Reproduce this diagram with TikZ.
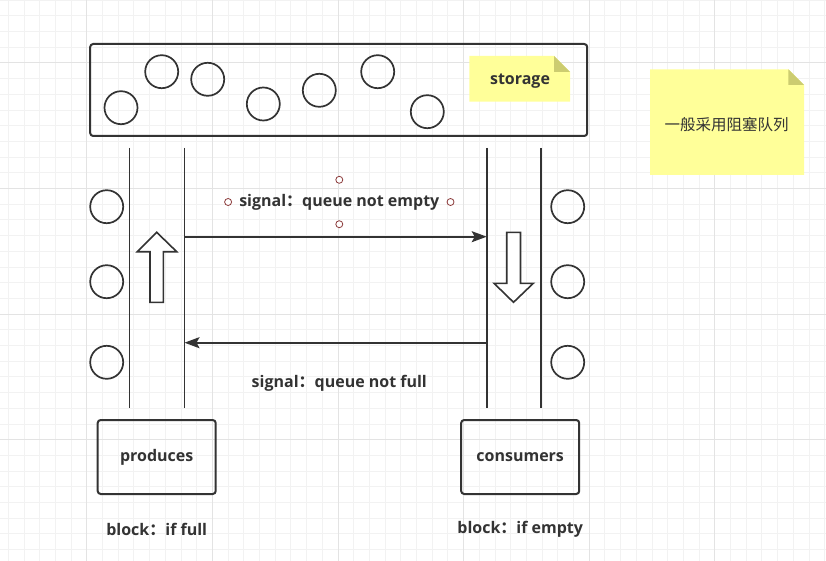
\documentclass[tikz,border=0pt]{standalone}
\usepackage{fontspec}
\setmainfont{Open Sans}
\newfontfamily\cjk{Noto Sans CJK SC}
\usetikzlibrary{arrows.meta, positioning}
\definecolor{ink}{HTML}{333333}
\definecolor{notefill}{HTML}{FFFF99}
\definecolor{notefold}{HTML}{CCCC70}
\definecolor{handlered}{HTML}{8B3A3A}
\newcommand{\fc}{{\cjk ：}}

\begin{document}
\begin{tikzpicture}[x=1pt, y=-1pt,
      every node/.style = {text=ink, font=\fontsize{16}{19}\selectfont\bfseries},
      gridminor/.style  = {draw=gray!10, line width=0.7pt},
      gridmajor/.style  = {draw=gray!22, line width=0.8pt},
      store/.style      = {draw=ink, line width=2pt, rounded corners=3pt,
                           minimum width=497pt, minimum height=92pt},
      box/.style        = {draw=ink, line width=2pt, rounded corners=3pt,
                           minimum width=118pt, minimum height=74pt},
      ball/.style       = {draw=ink, line width=1.7pt, circle, inner sep=0pt,
                           minimum size=33pt},
      lane/.style       = {draw=ink, line width=1.9pt},
      flow/.style       = {draw=ink, line width=1.8pt,
                           -{Stealth[length=15pt, width=11pt, inset=3pt]}},
      fat/.style        = {draw=ink, line width=1.6pt, fill=white},
      handle/.style     = {draw=handlered, line width=0.8pt, fill=white},
      sel/.style        = {inner sep=0pt, minimum width=222pt, minimum height=44pt},
  node distance = 72pt]
  \useasboundingbox (0,0) rectangle (826,561);
  \fill[white] (0,0) rectangle (826,561);
  % grid
  \foreach \i in {0,...,52}
    \draw[gridminor] ({8.2+15.7*\i},0) -- ({8.2+15.7*\i},561);
  \foreach \j in {0,...,35}
    \draw[gridminor] (0,{15.7*\j}) -- (826,{15.7*\j});
  \foreach \i in {0,...,6}
    \draw[gridmajor] ({86.7+125.6*\i},0) -- ({86.7+125.6*\i},561);
  \foreach \j in {0,...,3}
    \draw[gridmajor] (0,{62.8+125.6*\j}) -- (826,{62.8+125.6*\j});

  % storage
  \node[store] (storage) at (338.7,90) {};
  \foreach \x/\y [count=\i] in {121/107.7, 161.7/71.7, 207.7/79.3, 263.3/104,
                                319.3/90.3, 377.7/71.7, 427.3/111.7}
    \node[ball] (s\i) at (\x,\y) {};
  \fill[notefill] (469.3,56) -- (554,56) -- (570,72) -- (570,101.7) -- (469.3,101.7) -- cycle;
  \fill[notefold] (554,56) -- (554,72) -- (570,72) -- cycle;
  \node (storagetxt) at (520,81.5) {storage};

  % side note
  \fill[notefill] (650,69.3) -- (788.3,69.3) -- (804,85) -- (804,175) -- (650,175) -- cycle;
  \fill[notefold] (788.3,69.3) -- (788.3,85) -- (804,85) -- cycle;
  \node[font=\cjk\fontsize{15.5}{18}\selectfont] (hint) at (726.7,124.3) {一般采用阻塞队列};

  % lanes
  \coordinate (pl1) at (129.5,148);  \coordinate (pl2) at (129.5,408);
  \coordinate (pr1) at (184.5,148);  \coordinate (pr2) at (184.5,408);
  \coordinate (cl1) at (486.7,148);  \coordinate (cl2) at (486.7,408);
  \coordinate (cr1) at (541,148);    \coordinate (cr2) at (541,408);
  \draw[lane] (pl1) -- (pl2);
  \draw[lane] (pr1) -- (pr2);
  \draw[lane] (cl1) -- (cl2);
  \draw[lane] (cr1) -- (cr2);

  % waiting threads
  \foreach \y [count=\i] in {206.7, 281.7, 362.3} {
    \node[ball] (p\i) at (106.7,\y) {};
    \node[ball] (c\i) at (567.7,\y) {};
  }

  % block arrows
  \draw[fat] (156.7,232.3) -- (176.7,251.7) -- (163.3,251.7) -- (163.3,302.3)
    -- (150,302.3) -- (150,251.7) -- (137.3,251.7) -- cycle;
  \draw[fat] (513.5,302.3) -- (533.3,283.3) -- (520.5,283.3) -- (520.5,232.3)
    -- (506.7,232.3) -- (506.7,283.3) -- (494,283.3) -- cycle;

  % signals
  \coordinate (a1) at (pr1 |- 0,236.7);  \coordinate (a2) at (cl1 |- 0,236.7);
  \coordinate (b1) at (cl1 |- 0,342.7);  \coordinate (b2) at (pr1 |- 0,342.7);
  \draw[flow] (a1) -- (a2);
  \draw[flow] (b1) -- (b2);
  \node[sel] (sig1) at (339.3,202) {signal\fc queue not empty};
  \foreach \a in {north, south, west, east}
    \draw[handle] (sig1.\a) circle (3.5pt);
  \node (sig2) at (339.3,383.5) {signal\fc queue not full};

  % threads
  \node[box] (prod) at (156.7,457) {produces};
  \node[box] (cons) at (520.2,457) {consumers};
  \node (pfull) [below of=prod] {block\fc if full};
  \node (cempty) [below of=cons] {block\fc if empty};
\end{tikzpicture}
\end{document}
